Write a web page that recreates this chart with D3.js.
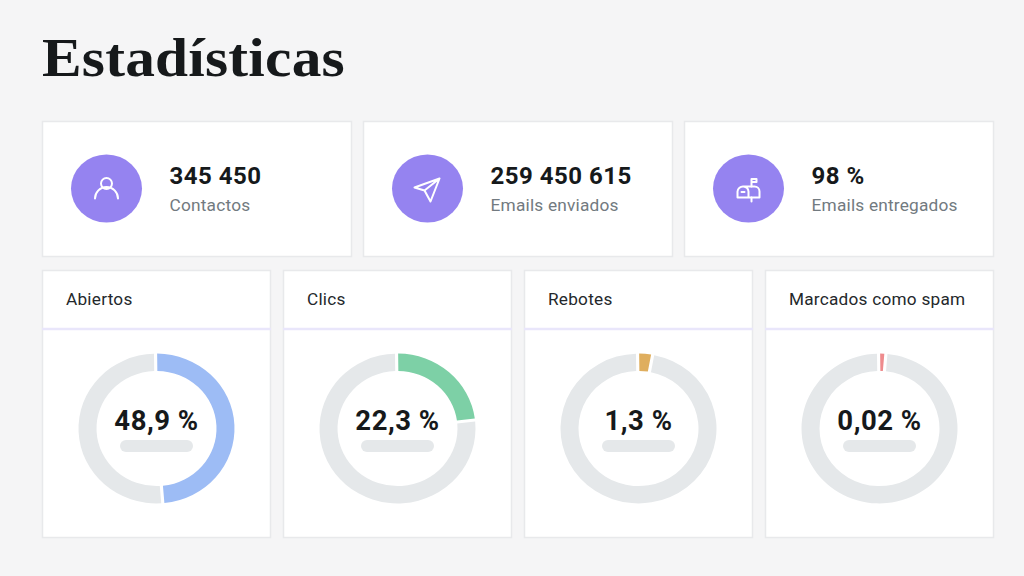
<!DOCTYPE html>
<html>
<head>
<meta charset="utf-8">
<script src="https://cdn.jsdelivr.net/npm/d3@7"></script>
<style>
  html, body { margin: 0; padding: 0; background: #f5f5f6; overflow: hidden; }
  svg { display: block; }
  text { font-family: Roboto, sans-serif; }
</style>
</head>
<body>
<svg></svg>
<script>
let pageTitle = "Estadísticas";

let statValues = ["345 450", "259 450 615", "98 %"];
let statLabels = ["Contactos", "Emails enviados", "Emails entregados"];

let donutNames = ["Abiertos", "Clics", "Rebotes", "Marcados como spam"];
let donutTexts = ["48,9 %", "22,3 %", "1,3 %", "0,02 %"];
// share of the ring that is coloured (small ones are drawn wider than their label)
let donutShares = [48.9, 23.4, 3.1, 1.5];
let donutColors = ["#9dbcf5", "#7dd0a6", "#dfae5e", "#ee8b8d"];

let width = 1024;
let height = 576;

let svg = d3.select("svg")
    .attr("width", width)
    .attr("height", height);

let topX = d3.scaleBand()
    .domain(statLabels)
    .range([42, 994])
    .paddingInner(0.0343);

let bottomX = d3.scaleBand()
    .domain(donutNames)
    .range([42, 994])
    .paddingInner(0.0498);

let drawCard = (x, y, w, h) => {
    svg.append("rect")
        .attr("x", x + 0.5)
        .attr("y", y + 0.5)
        .attr("width", w - 1)
        .attr("height", h - 1)
        .attr("fill", "#fff")
        .attr("stroke", "#e8e9eb")
        .attr("stroke-width", 1.5);
}

let drawTitle = () => {
    svg.append("text")
        .attr("transform", "translate(42, 76) scale(1.08, 1)")
        .attr("font-size", 55)
        .style("font-family", "'Liberation Serif', serif")
        .attr("font-weight", 700)
        .attr("letter-spacing", 0.2)
        .attr("fill", "#16191b")
        .text(pageTitle);
}

// icons are drawn around the middle of the purple circle
let drawIcon = (g, i) => {
    let line = g.append("g")
        .attr("fill", "none")
        .attr("stroke", "#fff")
        .attr("stroke-width", 2)
        .attr("stroke-linejoin", "round")
        .attr("stroke-linecap", "round");

    if (i == 0) {
        line.append("circle").attr("cx", 0).attr("cy", -5).attr("r", 5.5);
        line.append("path").attr("d", "M-11.5,10 A11.5,11.5 0 0 1 11.5,10");
    } else if (i == 1) {
        line.append("path").attr("d", "M12,-10 L-13,-1 L-3,2 L3,13 Z M12,-10 L-3,2");
    } else {
        line.append("path").attr("d", "M-5,-2 H6 A5,5 0 0 1 11,3 V9 H-11 V3 A5.5,5.5 0 0 1 -5,-2 A5.5,5.5 0 0 1 0,3 V9");
        line.append("path").attr("d", "M3,-2 V-9.5 H8 V-6.5 H3 M3,9 V13");
        line.append("path").attr("d", "M-7,3.5 H-4");
    }
}

let drawStats = () => {
    statLabels.forEach((label, i) => {
        let x = topX(label);
        drawCard(x, 121, topX.bandwidth(), 136);

        let icon = svg.append("g")
            .attr("transform", "translate(" + (x + 64.5) + ", 188.5)");
        icon.append("ellipse")
            .attr("rx", 35.5)
            .attr("ry", 34)
            .attr("fill", "#9583f0");
        drawIcon(icon, i);

        svg.append("text")
            .attr("x", x + 127.5)
            .attr("y", 184)
            .attr("font-size", 24)
            .attr("font-weight", 700)
            .attr("letter-spacing", 0.5)
            .attr("fill", "#16191b")
            .text(statValues[i]);

        svg.append("text")
            .attr("x", x + 127.5)
            .attr("y", 211)
            .attr("font-size", 17.3)
            .attr("letter-spacing", 0.2)
            .attr("fill", "#727a80")
            .text(label);
    });
}

let drawDonuts = () => {
    let pie = d3.pie().sort(null).startAngle(-0.012).endAngle(2 * Math.PI - 0.012);
    let arc = d3.arc().innerRadius(60).outerRadius(78).padAngle(0.032);

    donutNames.forEach((name, i) => {
        let x = bottomX(name);
        let w = bottomX.bandwidth();
        drawCard(x, 270, w, 268);

        svg.append("line")
            .attr("x1", x)
            .attr("x2", x + w)
            .attr("y1", 329)
            .attr("y2", 329)
            .attr("stroke", "#e9e6fb")
            .attr("stroke-width", 2.5);

        svg.append("text")
            .attr("x", x + 24)
            .attr("y", 305)
            .attr("font-size", 17.2)
            .attr("letter-spacing", 0.25)
            .attr("fill", "#24282b")
            .text(name);

        let cx = x + 114.5;
        let ring = svg.append("g")
            .attr("transform", "translate(" + cx + ", 428.5) scale(1, 0.96)");

        ring.selectAll("path")
            .data(pie([donutShares[i], 100 - donutShares[i]]))
            .enter()
            .append("path")
            .attr("d", arc)
            .attr("fill", (d, j) => j == 0 ? donutColors[i] : "#e5e8ea");

        svg.append("text")
            .attr("x", cx)
            .attr("y", 430)
            .attr("text-anchor", "middle")
            .attr("font-size", 27.5)
            .attr("font-weight", 700)
            .attr("letter-spacing", 0.5)
            .attr("fill", "#16191b")
            .text(donutTexts[i]);

        svg.append("rect")
            .attr("x", cx - 36.5)
            .attr("y", 440)
            .attr("width", 73)
            .attr("height", 12)
            .attr("rx", 6)
            .attr("fill", "#e5e8ea");
    });
}

drawTitle();
drawStats();
drawDonuts();
</script>
</body>
</html>
